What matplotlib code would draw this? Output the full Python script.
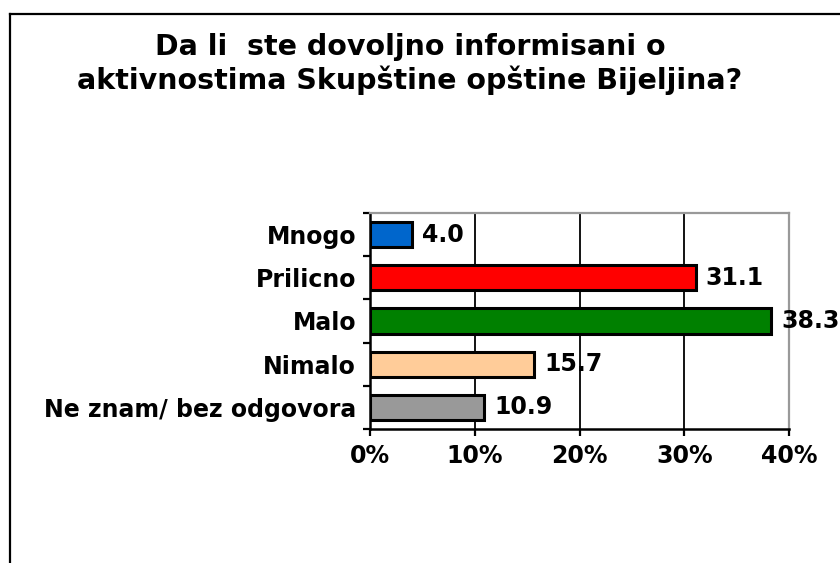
import matplotlib

matplotlib.use("Agg")
import matplotlib.pyplot as plt
from matplotlib.lines import Line2D
from matplotlib.ticker import FixedLocator, FuncFormatter

# data
categories = ["Mnogo", "Prilicno", "Malo", "Nimalo", "Ne znam/ bez odgovora"]
values = [4.0, 31.1, 38.3, 15.7, 10.9]
bar_colors = ["#0066CC", "#FF0000", "#008000", "#FFCC99", "#999999"]
x_ticks = [0, 10, 20, 30, 40]
title = "Da li  ste dovoljno informisani o\naktivnostima Skupštine opštine Bijeljina?"

W, H = 840, 563
fig = plt.figure(figsize=(W / 100, H / 100), dpi=100)
fig.patch.set_facecolor("white")

# outer chart frame (left and top edges visible, rest runs off the canvas)
fx, fy = 9.5 / W, 1 - 13.5 / H
fig.add_artist(Line2D([fx, fx], [-0.01, fy], transform=fig.transFigure, color="black", lw=1.6))
fig.add_artist(Line2D([fx, 1.01], [fy, fy], transform=fig.transFigure, color="black", lw=1.6))

fig.text(410 / W, 1 - 64 / H, title, ha="center", va="center", fontsize=20.5,
         fontweight="bold", linespacing=1.18, family="DejaVu Sans")

left, right, top, bottom = 370, 789, 213, 429
ax = fig.add_axes([left / W, 1 - bottom / H, (right - left) / W, (bottom - top) / H])

ypos = list(range(len(categories)))
ax.barh(ypos, values, height=0.58, color=bar_colors, edgecolor="black", linewidth=2.2, zorder=3)

ax.set_xlim(0, 40)
ax.set_ylim(len(categories) - 0.5, -0.5)

ax.xaxis.set_major_locator(FixedLocator(x_ticks))
ax.xaxis.set_major_formatter(FuncFormatter(lambda v, _: f"{v:.0f}%"))
ax.grid(axis="x", color="black", lw=1.3, zorder=0)

ax.set_yticks(ypos)
ax.set_yticklabels(categories)
ax.set_yticks([y - 0.5 for y in range(len(categories) + 1)], minor=True)
ax.tick_params(axis="y", which="major", length=0, pad=10, labelsize=17)
ax.tick_params(axis="y", which="minor", direction="out", length=5, width=1.6)
ax.tick_params(axis="x", direction="out", length=5, width=1.6, pad=6, labelsize=17)
for lbl in ax.get_xticklabels() + ax.get_yticklabels():
    lbl.set_fontweight("bold")

ax.spines["left"].set_color("black")
ax.spines["left"].set_linewidth(1.8)
ax.spines["bottom"].set_color("black")
ax.spines["bottom"].set_linewidth(1.8)
for side in ("top", "right"):
    ax.spines[side].set_color("#999999")
    ax.spines[side].set_linewidth(1.6)

for y, v in zip(ypos, values):
    ax.annotate(f"{v:.1f}", xy=(v, y), xytext=(7, 0), textcoords="offset points",
                va="center", ha="left", fontsize=17, fontweight="bold", clip_on=False)

fig.savefig("out.png", dpi=100)
